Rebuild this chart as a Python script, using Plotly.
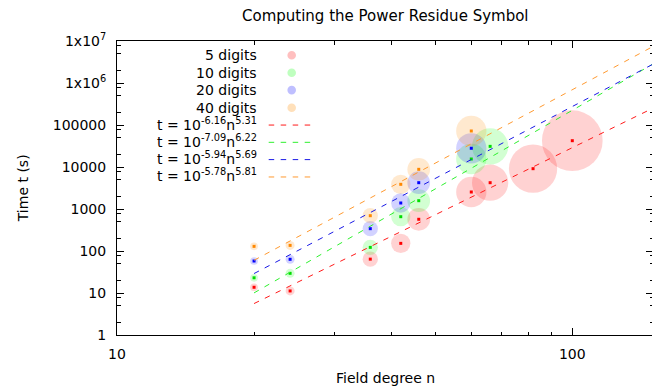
import numpy as np
import plotly.graph_objects as go

# ---- data ----
n_5 = [20, 24, 36, 42, 46, 60, 66, 82, 100]
t_5 = [13.7, 11.2, 64, 152, 569, 2540, 4230, 9120, 42300]
n_10 = [20, 24, 36, 42, 46, 60, 66]
t_10 = [23, 29.4, 122, 656, 1577, 15500, 31000]
n_20 = [20, 24, 36, 42, 46, 60]
t_20 = [57.8, 63.4, 340, 1390, 4230, 27900]
n_40 = [20, 24, 36, 42, 46, 60]
t_40 = [129, 136, 693, 3870, 8800, 72000]

series_names = ["5 digits", "10 digits", "20 digits", "40 digits"]
fit_log_a = [-6.16, -7.09, -5.94, -5.78]
fit_b = [5.31, 6.22, 5.69, 5.81]
fit_a_text = ["-6.16", "-7.09", "-5.94", "-5.78"]
fit_b_text = ["5.31", "6.22", "5.69", "5.81"]
fit_range = [20, 150]

# bubble diameter (px) per field degree
bubble_n = [20, 24, 36, 42, 46, 60, 66, 82, 100]
bubble_px = [7.7, 9, 15.3, 19.3, 22.7, 30.3, 36.3, 48.3, 60.7]

y_tickvals = [1, 10, 100, 1000, 10000, 100000, 1e6, 1e7]
y_ticktext = ["1", "10", "100", "1000", "10000", "100000", "1x10<sup>6</sup>", "1x10<sup>7</sup>"]
x_tickvals = [10, 100]
x_ticktext = ["10", "100"]

# ---- styles ----
line_colors = ["#ff1a1a", "#2ef02e", "#1a1ae6", "#ff9a30"]
dot_colors = ["#ff0000", "#00dd00", "#0000ff", "#ff8800"]
fill_colors = ["rgba(255,0,0,0.25)", "rgba(0,255,0,0.25)",
               "rgba(0,0,255,0.25)", "rgba(255,140,0,0.27)"]
DASH = "5.5px,6.5px"
FONT = "DejaVu Sans"
FS = 14

# plot area in window pixels
L, R, T, B = 117, 653, 40.5, 335
WIN_W, WIN_H = 660, 389
OFF = 8  # default page body margin


def px_x(px):
    return (px - L) / (R - L)


def px_y(py):
    return (B - py) / (B - T)


size_of = dict(zip(bubble_n, bubble_px))
all_n = [n_5, n_10, n_20, n_40]
all_t = [t_5, t_10, t_20, t_40]

fig = go.Figure()
for i in range(4):
    fig.add_trace(go.Scatter(
        x=all_n[i], y=all_t[i], mode="markers",
        marker=dict(size=[size_of[v] for v in all_n[i]], color=fill_colors[i],
                    line=dict(width=0)),
        hoverinfo="skip"))
for i in range(4):
    fig.add_trace(go.Scatter(
        x=all_n[i], y=all_t[i], mode="markers",
        marker=dict(size=3, symbol="square", color=dot_colors[i], line=dict(width=0)),
        hoverinfo="skip"))
for i in range(4):
    xs = np.array(fit_range, dtype=float)
    ys = 10 ** fit_log_a[i] * xs ** fit_b[i]
    fig.add_trace(go.Scatter(
        x=xs, y=ys, mode="lines",
        line=dict(color=line_colors[i], width=1, dash=DASH),
        hoverinfo="skip"))

# ---- manual gnuplot-style key ----
key_dot_y = [54.7, 72.3, 89.7, 107.3]
key_line_y = [124.7, 142.0, 159.3, 176.7]
annotations = []
shapes = []
for i in range(4):
    annotations.append(dict(
        x=px_x(258.5), y=px_y(key_dot_y[i]), xref="paper", yref="paper",
        xanchor="right", yanchor="middle", showarrow=False,
        text=series_names[i], font=dict(family=FONT, size=FS, color="black")))
    shapes.append(dict(
        type="circle", xref="paper", yref="paper",
        xsizemode="pixel", ysizemode="pixel",
        xanchor=px_x(291.7), yanchor=px_y(key_dot_y[i]),
        x0=-4.3, x1=4.3, y0=-4.3, y1=4.3,
        fillcolor=fill_colors[i], line=dict(width=0)))
for i in range(4):
    annotations.append(dict(
        x=px_x(258.5), y=px_y(key_line_y[i] - 1.5), xref="paper", yref="paper",
        xanchor="right", yanchor="middle", showarrow=False,
        text="t = 10<sup>%s</sup>n<sup>%s</sup>" % (fit_a_text[i], fit_b_text[i]),
        font=dict(family=FONT, size=FS, color="black")))
    shapes.append(dict(
        type="line", xref="paper", yref="paper",
        x0=px_x(268.7), x1=px_x(310.3), y0=px_y(key_line_y[i]), y1=px_y(key_line_y[i]),
        line=dict(color=line_colors[i], width=1, dash=DASH)))

# titles
annotations.append(dict(
    x=0.5, y=px_y(15), xref="paper", yref="paper", xanchor="center", yanchor="middle",
    showarrow=False, text="Computing the Power Residue Symbol",
    font=dict(family=FONT, size=15, color="black")))
annotations.append(dict(
    x=0.5, y=px_y(378), xref="paper", yref="paper", xanchor="center", yanchor="middle",
    showarrow=False, text="Field degree n",
    font=dict(family=FONT, size=FS, color="black")))
annotations.append(dict(
    x=px_x(23), y=px_y(188), xref="paper", yref="paper", xanchor="center", yanchor="middle",
    showarrow=False, text="Time t (s)", textangle=-90,
    font=dict(family=FONT, size=FS, color="black")))

fig.update_layout(
    width=WIN_W - OFF, height=WIN_H - OFF,
    margin=dict(l=L - OFF, r=WIN_W - R, t=T - OFF, b=WIN_H - B, pad=0),
    plot_bgcolor="white", paper_bgcolor="white",
    showlegend=False,
    font=dict(family=FONT, size=FS, color="black"),
    annotations=annotations, shapes=shapes,
)
fig.update_xaxes(
    type="log", range=[1, np.log10(150.4)],
    showline=True, linecolor="black", linewidth=1, mirror="allticks",
    ticks="inside", ticklen=7, tickcolor="black", tickwidth=1,
    tickvals=x_tickvals, ticktext=x_ticktext, ticklabelstandoff=6,
    minor=dict(ticks="inside", ticklen=3.5, dtick="D1", tickcolor="black", showgrid=False),
    showgrid=False, zeroline=False)
fig.update_yaxes(
    type="log", range=[0, 7],
    showline=True, linecolor="black", linewidth=1, mirror="allticks",
    ticks="inside", ticklen=7, tickcolor="black", tickwidth=1,
    tickvals=y_tickvals, ticktext=y_ticktext, ticklabelstandoff=7,
    minor=dict(ticks="inside", ticklen=3.5, tickcolor="black", showgrid=False,
               tickvals=[m * 10 ** k for k in range(7) for m in (2, 5, 8)]),
    showgrid=False, zeroline=False)

fig.write_html("out.html")
